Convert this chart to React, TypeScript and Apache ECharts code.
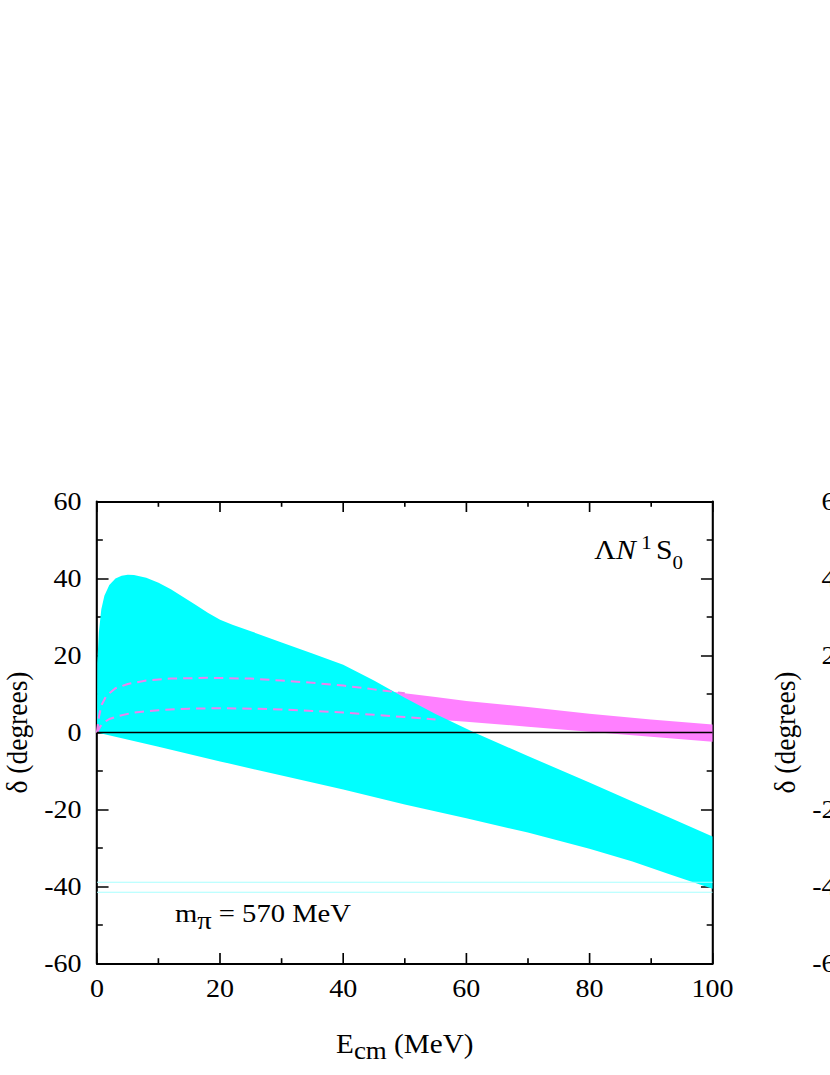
import React, { useEffect, useRef } from "react";
import * as echarts from "echarts";

// ---- data (E_cm in MeV, delta in degrees) ----
const xTickValues = [0, 20, 40, 60, 80, 100];
const yTickValues = [-60, -40, -20, 0, 20, 40, 60];

const cyanUpper: number[][] = [
  [0, 0], [0.05, 18], [0.3, 26], [0.7, 32], [1.2, 35.5], [2, 38.3], [3, 40], [4, 40.7],
  [5, 41], [6, 40.9], [8, 40.2], [10, 38.9], [12, 37.2], [14, 35.2], [16, 33.2], [18, 31.1],
  [20, 29.3], [22, 28], [25, 26.3], [30, 23.4], [35, 20.5], [40, 17.6], [45, 13.5], [50, 9],
  [55, 4.8], [61.3, 0], [70, -6.1], [80, -13], [87, -17.9], [93, -22.1], [100, -27],
];
const cyanLower: number[][] = [
  [0, 0], [10, -3.7], [20, -7.5], [30, -11.2], [40, -14.8], [50, -18.7], [60, -22.3],
  [70, -26], [80, -30.2], [87, -33.5], [93, -36.8], [100, -40.6],
];
const magentaUpper: number[][] = [
  [0, 0], [0.3, 4], [0.7, 7], [1.5, 9.5], [3, 11.5], [5, 12.6], [8, 13.5], [12, 14],
  [18, 14.2], [25, 14], [30, 13.5], [35, 12.9], [40, 12.2], [45, 11.2], [50, 10.2],
  [55, 9.2], [60, 8.2], [70, 6.6], [80, 4.9], [90, 3.4], [100, 2.1],
];
const magentaLower: number[][] = [
  [0, 0], [0.5, 1.5], [1, 2.5], [2, 3.5], [3.5, 4.3], [6, 5.2], [10, 5.8], [15, 6.2],
  [20, 6.3], [25, 6.2], [30, 6], [35, 5.6], [40, 5.2], [45, 4.6], [50, 4], [55, 3.4],
  [60, 2.8], [70, 1.5], [80, 0.2], [90, -1.1], [100, -2.4],
];
const dashedUpperEnd = 50;
const dashedLowerEnd = 55;
const zeroLine: number[][] = [[0, 0], [100, 0]];
const cyanRefLevels = [-38.9, -41.5];

const FONT = "Liberation Serif";
// the original figure is slightly stretched horizontally
const SX = 1.1;
const W = 830 / SX;

function band(upper: number[][], lower: number[][], color: string, z: number) {
  return {
    type: "custom",
    coordinateSystem: "cartesian2d",
    xAxisIndex: 0,
    yAxisIndex: 0,
    z,
    silent: true,
    data: [[0, 0]],
    renderItem: (_params: any, api: any) => {
      const pts = upper
        .map((p) => api.coord(p))
        .concat(lower.slice().reverse().map((p) => api.coord(p)));
      return { type: "polygon", shape: { points: pts }, style: { fill: color, stroke: null } };
    },
  };
}

function lineSeries(data: number[][], color: string, width: number, z: number, dashed?: boolean) {
  return {
    type: "line",
    xAxisIndex: 0,
    yAxisIndex: 0,
    data,
    z,
    silent: true,
    symbol: "none",
    smooth: false,
    lineStyle: { color, width, type: dashed ? [8.5, 5.5] : "solid" },
  };
}

const axisCommon = {
  axisLine: { show: true, onZero: false, lineStyle: { color: "#000", width: 1.9 } },
  axisTick: { show: true, inside: true, length: 10.5, lineStyle: { color: "#000", width: 1.5 } },
  minorTick: { show: true, splitNumber: 2, length: 5.3, lineStyle: { color: "#000", width: 1.5 } },
  splitLine: { show: false },
  minorSplitLine: { show: false },
};

const labelStyle = { color: "#000", fontFamily: FONT, fontSize: 25.5 };

export default function App() {
  const ref = useRef<HTMLDivElement>(null);
  useEffect(() => {
    if (!ref.current) return;
    const chart = echarts.init(ref.current, undefined, { renderer: "svg" });
    const gridA = { left: 97 / SX, top: 501.5, width: 615.5 / SX, height: 462, containLabel: false, outerBoundsMode: "none" };
    const gridB = { left: 865 / SX, top: 501.5, width: 615.5 / SX, height: 462, containLabel: false, outerBoundsMode: "none" };
    const yName = {
      name: "δ (degrees)",
      nameLocation: "middle",
      nameGap: 52,
      nameTextStyle: { color: "#000", fontFamily: FONT, fontSize: 27.5 },
    };
    const option: any = {
      animation: false,
      backgroundColor: "#fff",
      grid: [gridA, gridB],
      xAxis: [
        {
          type: "value", gridIndex: 0, position: "bottom", min: 0, max: 100, interval: 20,
          ...axisCommon,
          axisLabel: { ...labelStyle, margin: 12, formatter: (v: number) => (xTickValues.includes(v) ? String(v) : "") },
          name: "{a|E}{s|cm}{a| (MeV)}",
          nameLocation: "middle",
          nameGap: 60,
          nameTextStyle: {
            color: "#000",
            fontFamily: FONT,
            rich: {
              a: { fontFamily: FONT, fontSize: 26.5, lineHeight: 40, color: "#000" },
              s: { fontFamily: FONT, fontSize: 24.5, lineHeight: 25, verticalAlign: "bottom", color: "#000" },
            },
          },
        },
        {
          type: "value", gridIndex: 0, position: "top", min: 0, max: 100, interval: 20,
          ...axisCommon,
          axisLabel: { show: false },
        },
        { type: "value", gridIndex: 1, min: 0, max: 100, interval: 20, show: false },
      ],
      yAxis: [
        {
          type: "value", gridIndex: 0, position: "left", min: -60, max: 60, interval: 20,
          ...axisCommon,
          axisLabel: { ...labelStyle, margin: 14, formatter: (v: number) => (yTickValues.includes(v) ? String(v) : "") },
          ...yName,
        },
        {
          type: "value", gridIndex: 0, position: "right", min: -60, max: 60, interval: 20,
          ...axisCommon,
          axisLabel: { show: false },
        },
        {
          type: "value", gridIndex: 1, position: "left", min: -60, max: 60, interval: 20,
          ...axisCommon,
          axisLabel: { ...labelStyle, margin: 14, formatter: (v: number) => (yTickValues.includes(v) ? String(v) : "") },
          ...yName,
        },
      ],
      series: [
        band(magentaUpper, magentaLower, "#ff80ff", 1),
        band(cyanUpper, cyanLower, "#00ffff", 2),
        lineSeries(magentaUpper.filter((p) => p[0] <= dashedUpperEnd), "#ee82ee", 2, 3, true),
        lineSeries(magentaLower.filter((p) => p[0] <= dashedLowerEnd), "#ee82ee", 2, 3, true),
        ...cyanRefLevels.map((lv) => lineSeries([[0, lv], [100, lv]], "#a8ffff", 1, 3)),
        lineSeries(zeroLine, "#000", 1.5, 4),
      ],
      graphic: [
        {
          type: "text",
          x: 175 / SX,
          y: 913,
          z: 10,
          style: {
            text: "{a|m}{p|π}{a| = 570 MeV}",
            align: "left",
            verticalAlign: "middle",
            fill: "#000",
            rich: {
              a: { fontFamily: FONT, fontSize: 26, lineHeight: 40, fill: "#000" },
              p: { fontFamily: FONT, fontSize: 26, lineHeight: 22, verticalAlign: "bottom", fill: "#000" },
            },
          },
        },
        {
          type: "text",
          x: 683 / SX,
          y: 550,
          z: 10,
          style: {
            text: "{a|Λ}{i|N}{u|1}{a|S}{d|0}",
            align: "right",
            verticalAlign: "middle",
            fill: "#000",
            rich: {
              a: { fontFamily: FONT, fontSize: 27, lineHeight: 44, fill: "#000" },
              i: { fontFamily: FONT, fontSize: 27, fontStyle: "italic", lineHeight: 44, fill: "#000" },
              u: { fontFamily: FONT, fontSize: 19, lineHeight: 41, verticalAlign: "top", padding: [5, 4, 0, 5], fill: "#000" },
              d: { fontFamily: FONT, fontSize: 19, lineHeight: 23, verticalAlign: "bottom", fill: "#000" },
            },
          },
        },
      ],
    };
    chart.setOption(option);
    return () => chart.dispose();
  }, []);
  return (
    <div style={{ position: "absolute", left: 0, top: 0, width: 830, height: 1075, overflow: "hidden", background: "#fff" }}>
      <div
        ref={ref}
        style={{ width: W, height: 1075, transform: `scaleX(${SX})`, transformOrigin: "0 0" }}
      />
    </div>
  );
}
